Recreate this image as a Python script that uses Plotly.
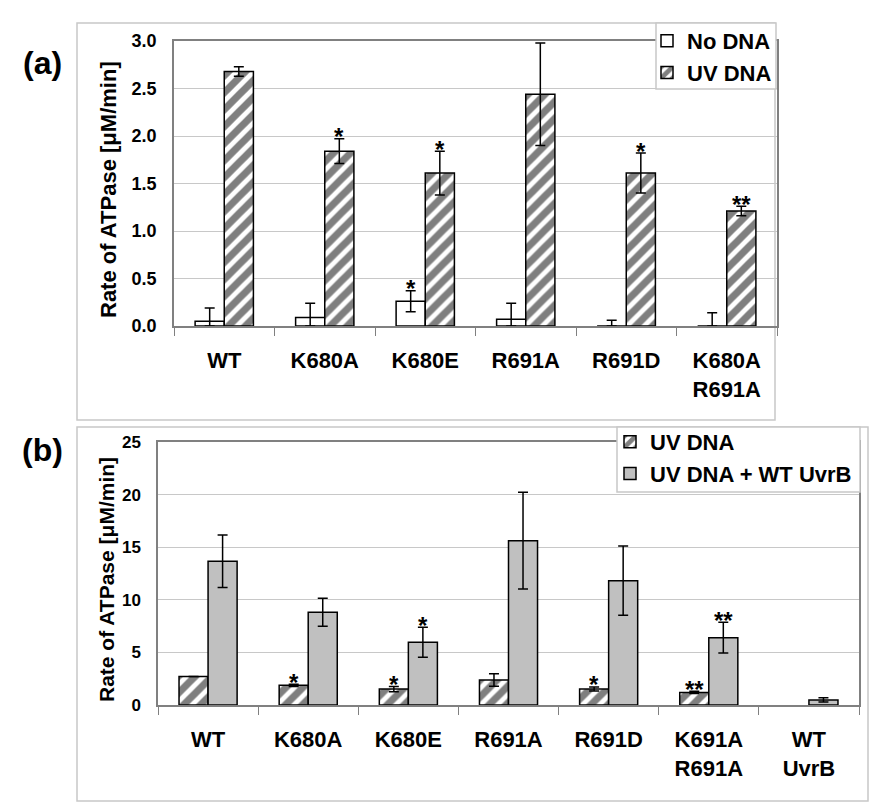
import plotly.graph_objects as go

# ---------------- data ----------------
cats_a = ["WT", "K680A", "K680E", "R691A", "R691D", "K680A<br>R691A"]
nodna_a = [0.05, 0.09, 0.26, 0.07, 0.0, 0.0]
nodna_err_a = [0.14, 0.15, 0.11, 0.17, 0.06, 0.14]
uvdna_a = [2.68, 1.84, 1.61, 2.44, 1.61, 1.21]
uvdna_err_a = [0.05, 0.13, 0.23, 0.54, 0.21, 0.05]
stars_nodna_a = ["", "", "*", "", "", ""]
stars_uv_a = ["", "*", "*", "", "*", "**"]

cats_b = ["WT", "K680A", "K680E", "R691A", "R691D", "K691A<br>R691A", "WT<br>UvrB"]
uv_b = [2.7, 1.87, 1.52, 2.38, 1.52, 1.2, None]
uv_err_b = [0.0, 0.1, 0.25, 0.6, 0.2, 0.1, 0.0]
uvwt_b = [13.66, 8.81, 5.96, 15.62, 11.82, 6.4, 0.48]
uvwt_err_b = [2.5, 1.33, 1.42, 4.6, 3.3, 1.46, 0.2]
stars_uv_b = ["", "*", "*", "", "*", "**", ""]
stars_uvwt_b = ["", "", "*", "", "", "**", ""]

ytitle = "Rate of ATPase [μM/min]"

W, H = 886, 802
FONT = "Liberation Sans, Arial, sans-serif"
GREY = "#c0c0c0"
FRAME = "#c8c8c8"


def px(x):
    return x / W


def py(y):
    return (H - y) / H


def minus(vals, errs):
    return [min(e, v) if v is not None else 0 for v, e in zip(vals, errs)]


hatch = dict(shape="/", fgcolor="black", bgcolor="white", size=12, solidity=0.6)

fig = go.Figure()

# ---- panel (a) ----
fig.add_trace(go.Bar(
    x=cats_a, y=nodna_a, name="No DNA", xaxis="x", yaxis="y", legend="legend",
    marker=dict(color="white", line=dict(color="black", width=1.5)),
    error_y=dict(type="data", array=nodna_err_a, arrayminus=minus(nodna_a, nodna_err_a),
                 color="black", thickness=1.5, width=5),
))
fig.add_trace(go.Bar(
    x=cats_a, y=uvdna_a, name="UV DNA", xaxis="x", yaxis="y", legend="legend",
    marker=dict(color="white", pattern=hatch, line=dict(color="black", width=1.5)),
    error_y=dict(type="data", array=uvdna_err_a, color="black", thickness=1.5, width=5),
))

# ---- panel (b) ----
fig.add_trace(go.Bar(
    x=cats_b, y=uv_b, name="UV DNA", xaxis="x2", yaxis="y2", legend="legend2",
    marker=dict(color="white", pattern=hatch, line=dict(color="black", width=1.5)),
    error_y=dict(type="data", array=uv_err_b, color="black", thickness=1.5, width=5),
))
fig.add_trace(go.Bar(
    x=cats_b, y=uvwt_b, name="UV DNA + WT UvrB", xaxis="x2", yaxis="y2", legend="legend2",
    marker=dict(color=GREY, line=dict(color="black", width=1.5)),
    error_y=dict(type="data", array=uvwt_err_b, color="black", thickness=1.5, width=5),
))

annotations = []


def add_stars(cats, vals, errs, stars, xref, yref, shift, ypad):
    for c, v, e, s in zip(cats, vals, errs, stars):
        if s:
            top = (v or 0) + (e or 0)
            annotations.append(dict(
                x=c, y=top, xref=xref, yref=yref, text=s, showarrow=False,
                xanchor="center", xshift=shift, yshift=ypad, yanchor="middle",
                font=dict(family=FONT, size=24, color="black", weight="bold"),
            ))


add_stars(cats_a, nodna_a, nodna_err_a, stars_nodna_a, "x", "y", -14.6, 2)
add_stars(cats_a, uvdna_a, uvdna_err_a, stars_uv_a, "x", "y", 14.6, 2)
add_stars(cats_b, uv_b, uv_err_b, stars_uv_b, "x2", "y2", -14.3, 2)
add_stars(cats_b, uvwt_b, uvwt_err_b, stars_uvwt_b, "x2", "y2", 14.3, 2)

# panel letters
annotations.append(dict(x=px(42), y=py(63), xref="paper", yref="paper", text="<b>(a)</b>",
                        xanchor="center", yanchor="middle",
                        showarrow=False, font=dict(family=FONT, size=32, color="black")))
annotations.append(dict(x=px(42), y=py(450), xref="paper", yref="paper", text="<b>(b)</b>",
                        xanchor="center", yanchor="middle",
                        showarrow=False, font=dict(family=FONT, size=32, color="black")))
# y-axis titles
annotations.append(dict(x=px(108), y=py(190), xref="paper", yref="paper", text=ytitle,
                        textangle=-90, xanchor="center", yanchor="middle", showarrow=False,
                        font=dict(family=FONT, size=22, color="black", weight="bold")))
annotations.append(dict(x=px(106), y=py(580), xref="paper", yref="paper", text=ytitle,
                        textangle=-90, xanchor="center", yanchor="middle", showarrow=False,
                        font=dict(family=FONT, size=21, color="black", weight="bold")))

shapes = [
    # outer panel frames
    dict(type="rect", xref="paper", yref="paper", x0=px(77), x1=px(775), y0=py(420), y1=py(23),
         line=dict(color=FRAME, width=1.5), layer="below"),
    dict(type="rect", xref="paper", yref="paper", x0=px(77), x1=px(868), y0=py(801), y1=py(427),
         line=dict(color=FRAME, width=1.5), layer="below"),
    # legend boxes
    dict(type="rect", xref="paper", yref="paper", x0=px(656), x1=px(776), y0=py(89), y1=py(23),
         line=dict(color=FRAME, width=1.5), fillcolor="white", layer="above"),
    dict(type="rect", xref="paper", yref="paper", x0=px(617), x1=px(860), y0=py(492), y1=py(427),
         line=dict(color=FRAME, width=1.5), fillcolor="white", layer="above"),
]

xaxis_common = dict(
    type="category", tickson="boundaries", ticks="outside", ticklen=8, tickcolor="#808080",
    showline=True, linecolor="#808080", linewidth=1.5, mirror=True, showgrid=False,
    tickfont=dict(family=FONT, size=22, color="black", weight="bold"),
    ticklabelstandoff=14, fixedrange=True, automargin=False,
)
yaxis_common = dict(
    showline=True, linecolor="#808080", linewidth=1.5, mirror=True,
    showgrid=True, gridcolor="#c8c8c8", gridwidth=1, zeroline=False, ticks="",
    ticklabelstandoff=12, fixedrange=True, automargin=False,
)
legend_common = dict(
    xanchor="left", yanchor="top", bgcolor="rgba(0,0,0,0)", borderwidth=0,
    font=dict(family=FONT, size=22, color="black", weight="bold"),
    itemwidth=30, tracegroupgap=0,
)

fig.update_layout(
    width=W, height=H, margin=dict(l=0, r=0, t=0, b=0, pad=0, autoexpand=False),
    paper_bgcolor="white", plot_bgcolor="white",
    barmode="group", bargap=0.42, bargroupgap=0,
    showlegend=True,
    xaxis=dict(domain=[px(174), px(777)], anchor="y", **xaxis_common),
    yaxis=dict(domain=[py(326), py(41)], anchor="x", range=[0, 3.0], dtick=0.5, tickformat=".1f",
               tickfont=dict(family=FONT, size=18, color="black", weight="bold"),
               **yaxis_common),
    xaxis2=dict(domain=[px(158), px(859)], anchor="y2", **xaxis_common),
    yaxis2=dict(domain=[py(705), py(442)], anchor="x2", range=[0, 25], dtick=5,
                tickfont=dict(family=FONT, size=17, color="black", weight="bold"),
                **yaxis_common),
    legend=dict(x=px(647), y=py(20), **legend_common),
    legend2=dict(x=px(610), y=py(421), **legend_common),
    annotations=annotations,
    shapes=shapes,
)

fig.write_html("out.html", config={"displayModeBar": False},
               post_script="document.body.style.margin='0';")
